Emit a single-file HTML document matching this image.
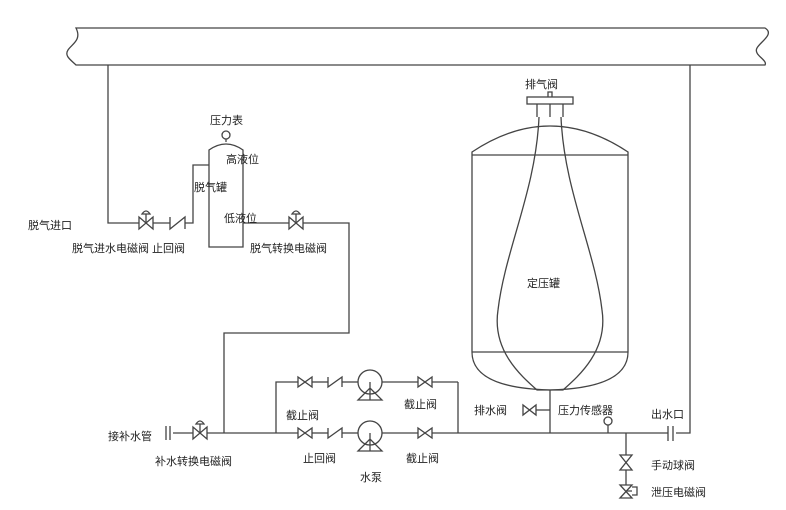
<!DOCTYPE html>
<html><head><meta charset="utf-8"><style>
html,body{margin:0;padding:0;background:#fff;}
svg{display:block;}
text{font-family:"Liberation Sans","Noto Sans CJK SC",sans-serif;font-size:11px;fill:#222;}
</style></head><body>
<svg width="786" height="510" viewBox="0 0 786 510" xmlns="http://www.w3.org/2000/svg">
<g fill="none" stroke="#444" stroke-width="1.3">
<path d="M76,28 H765 C775,34 760,42 757,48 C753,55 768,60 765,65 H76 C71,60 64,56 68,50 C72,44 82,40 76,28 Z"/>
<path d="M108,65 V223 H139"/>
<path d="M153,223 H170"/>
<path d="M185,223 H193 V165 H209"/>
<path d="M139,217 V229 L153,217 V229 Z"/>
<path d="M146,223 V214"/><path d="M142,214 Q146,208 150,214 Z"/>
<path d="M170,217 V229 L185,217 V229"/>
<path d="M209,247 V150 Q226,138 243,150 V247 Z"/>
<path d="M226,142 V139"/><circle cx="226" cy="135" r="4"/>
<path d="M243,223 H289"/><path d="M303,223 H349 V333 H224 V433"/>
<path d="M289,217 V229 L303,217 V229 Z"/>
<path d="M296,223 V214"/><path d="M292,214 Q296,208 300,214 Z"/>
<path d="M173,433 H193"/><path d="M207,433 H298"/>
<path d="M166,426 V440 M170,426 V440"/>
<path d="M193,427 V439 L207,427 V439 Z"/>
<path d="M200,433 V424"/><path d="M196,424 Q200,418 204,424 Z"/>
<path d="M276,433 V382 H298"/>
<path d="M458,382 V433"/>
<path d="M298,377 V387 L312,377 V387 Z"/><path d="M312,382 H328"/>
<path d="M328,377 V387 L342,377 V387"/><path d="M342,382 H358"/>
<circle cx="370" cy="382" r="12"/><path d="M382,382 H418"/>
<path d="M370,382 V400 M358,400 H382 L370,388 Z"/>
<path d="M418,377 V387 L432,377 V387 Z"/><path d="M432,382 H458"/>
<path d="M298,428 V438 L312,428 V438 Z"/><path d="M312,433 H328"/>
<path d="M328,428 V438 L342,428 V438"/><path d="M342,433 H358"/>
<circle cx="370" cy="433" r="12"/><path d="M382,433 H418"/>
<path d="M370,433 V451 M358,451 H382 L370,439 Z"/>
<path d="M418,428 V438 L432,428 V438 Z"/><path d="M432,433 H668"/>
<path d="M676,433 H690 V65"/>
<path d="M668,426 V441 M673,426 V441"/>
<path d="M472,352 V152 Q550,100 628,152 V352"/>
<path d="M472,155 H628"/><path d="M472,352 H628"/>
<path d="M472,352 Q472,388 550,390 Q628,388 628,352"/>
<rect x="527" y="97" width="46" height="7"/>
<path d="M548,97 V92 H552 V97"/>
<path d="M537,104 V117 M550,104 V117 M563,104 V117"/>
<path d="M539,117 C536,190 505,250 498,310 C492,350 520,375 537,390 H563 C580,375 608,350 602,310 C595,250 564,190 561,117"/>
<path d="M550,390 V433"/>
<path d="M523,405 V415 L536,405 V415 Z"/><path d="M536,410 H550"/>
<circle cx="608" cy="421" r="4"/><path d="M608,425 V433"/>
<path d="M626,433 V497"/>
<path d="M620,455 H632 L620,470 H632 Z" fill="#fff"/>
<path d="M620,485 H632 L620,498 H632 Z" fill="#fff"/>
<path d="M626,491 H632 M632,487 H637 V495 H632"/>
</g>
<text x="525" y="88">排气阀</text>
<text x="527" y="287">定压罐</text>
<text x="210" y="124">压力表</text>
<text x="226" y="163">高液位</text>
<text x="194" y="191">脱气罐</text>
<text x="224" y="222">低液位</text>
<text x="28" y="229">脱气进口</text>
<text x="72" y="252">脱气进水电磁阀 止回阀</text>
<text x="250" y="252">脱气转换电磁阀</text>
<text x="108" y="440">接补水管</text>
<text x="155" y="465">补水转换电磁阀</text>
<text x="286" y="419">截止阀</text>
<text x="404" y="408">截止阀</text>
<text x="303" y="462">止回阀</text>
<text x="406" y="462">截止阀</text>
<text x="360" y="481">水泵</text>
<text x="474" y="414">排水阀</text>
<text x="558" y="414">压力传感器</text>
<text x="651" y="418">出水口</text>
<text x="651" y="469">手动球阀</text>
<text x="651" y="496">泄压电磁阀</text>
</svg>
</body></html>
